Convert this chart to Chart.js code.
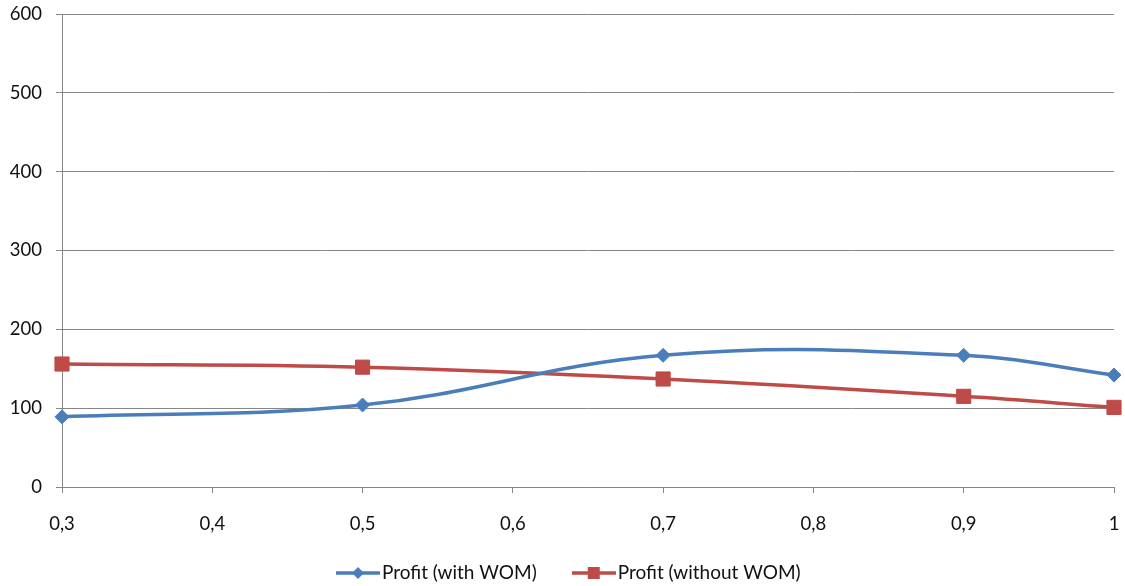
<!DOCTYPE html>
<html>
<head>
<meta charset="utf-8">
<script src="https://cdn.jsdelivr.net/npm/chart.js@4"></script>
<style>
  html, body { margin: 0; padding: 0; background: #ffffff; overflow: hidden; }
  #wrap { width: 1125px; height: 586px; position: relative; }
</style>
</head>
<body>
<div id="wrap"><canvas id="chart"></canvas></div>
<script>
// Share of reach (x) against profit for the two scenarios
const xValues = [0.3, 0.5, 0.7, 0.9, 1];
const profitWithWom = [89, 104, 167, 167, 142];
const profitWithoutWom = [156, 152, 137, 115, 101];
const seriesNames = ['Profit (with WOM)', 'Profit (without WOM)'];
const yMin = 0, yMax = 600, yStep = 100;
const xMin = 0.3, xMax = 1, xStep = 0.1;

const BLUE = '#4a7ebb';
const RED = '#be4b48';
const GRID = '#868686';
const TEXT = '#111111';
const FONT = 'Lato, "Open Sans", sans-serif';
const FONT_SIZE = 18.5;
const LEGEND_FONT_SIZE = 19;

// Legend swatch: a short line with the series marker in the middle
function swatch(color, marker) {
  const c = document.createElement('canvas');
  c.width = 44; c.height = 16;
  const g = c.getContext('2d');
  g.strokeStyle = color;
  g.lineWidth = 3.5;
  g.beginPath(); g.moveTo(0, 8); g.lineTo(44, 8); g.stroke();
  g.fillStyle = color;
  g.beginPath();
  if (marker === 'diamond') {
    g.moveTo(22, 2); g.lineTo(28, 8); g.lineTo(22, 14); g.lineTo(16, 8);
  } else {
    g.rect(16, 2, 12, 12);
  }
  g.closePath(); g.fill();
  return c;
}
const legendIcons = [swatch(BLUE, 'diamond'), swatch(RED, 'square')];

// Legend row under the axis: swatch, short gap, series name
const bottomLegend = {
  id: 'bottomLegend',
  afterDraw(chart) {
    const ctx = chart.ctx;
    const textGap = 2, itemGap = 35, centerY = 573, shiftX = 6;
    ctx.save();
    ctx.font = LEGEND_FONT_SIZE + 'px ' + FONT;
    ctx.textBaseline = 'middle';
    ctx.fillStyle = TEXT;
    const items = chart.data.datasets.map((ds, i) => {
      const icon = legendIcons[i];
      return { icon, text: ds.label, w: icon.width + textGap + ctx.measureText(ds.label).width };
    });
    const total = items.reduce((s, it) => s + it.w, 0) + itemGap * (items.length - 1);
    let x = Math.round((chart.width - total) / 2) + shiftX;
    items.forEach((it) => {
      ctx.drawImage(it.icon, x, centerY - it.icon.height / 2);
      ctx.fillText(it.text, x + it.icon.width + textGap, centerY);
      x += it.w + itemGap;
    });
    ctx.restore();
  }
};

const pts = (ys) => xValues.map((x, i) => ({ x: x, y: ys[i] }));

new Chart(document.getElementById('chart'), {
  type: 'line',
  data: {
    datasets: [
      {
        label: seriesNames[0],
        data: pts(profitWithWom),
        borderColor: BLUE,
        backgroundColor: BLUE,
        borderWidth: 3.5,
        tension: 0.4,
        clip: false,
        pointStyle: 'rectRot',
        pointRadius: 7,
        pointBorderWidth: 1,
        pointBackgroundColor: BLUE,
        pointBorderColor: BLUE
      },
      {
        label: seriesNames[1],
        data: pts(profitWithoutWom),
        borderColor: RED,
        backgroundColor: RED,
        borderWidth: 3.5,
        tension: 0.4,
        clip: false,
        pointStyle: 'rect',
        pointRadius: 10,
        pointBorderWidth: 1,
        pointBackgroundColor: RED,
        pointBorderColor: RED
      }
    ]
  },
  options: {
    responsive: true,
    maintainAspectRatio: false,
    animation: false,
    events: [],
    layout: { autoPadding: false, padding: { top: 14, right: 11, left: 0, bottom: 39 } },
    scales: {
      x: {
        type: 'linear',
        min: xMin,
        max: xMax,
        afterFit: (s) => {
          s.height = 60;
          s.paddingLeft = 0;
          s.paddingRight = 0;
        },
        ticks: {
          stepSize: xStep,
          padding: 20,
          color: TEXT,
          font: { family: FONT, size: FONT_SIZE },
          maxRotation: 0,
          callback: (v) => String(Number(v.toFixed(1))).replace('.', ',')
        },
        grid: {
          drawOnChartArea: false,
          drawTicks: true,
          tickLength: 6,
          color: GRID,
          lineWidth: 1
        },
        border: { color: GRID, width: 1 }
      },
      y: {
        min: yMin,
        max: yMax,
        afterFit: (s) => {
          s.width = 62;
          s.paddingTop = 0;
          s.paddingBottom = 0;
        },
        ticks: {
          stepSize: yStep,
          padding: 14,
          color: TEXT,
          font: { family: FONT, size: FONT_SIZE }
        },
        grid: {
          color: GRID,
          lineWidth: 1,
          tickLength: 6
        },
        border: { color: GRID, width: 1 }
      }
    },
    plugins: {
      tooltip: { enabled: false },
      legend: { display: false }
    }
  },
  plugins: [bottomLegend]
});
</script>
</body>
</html>
